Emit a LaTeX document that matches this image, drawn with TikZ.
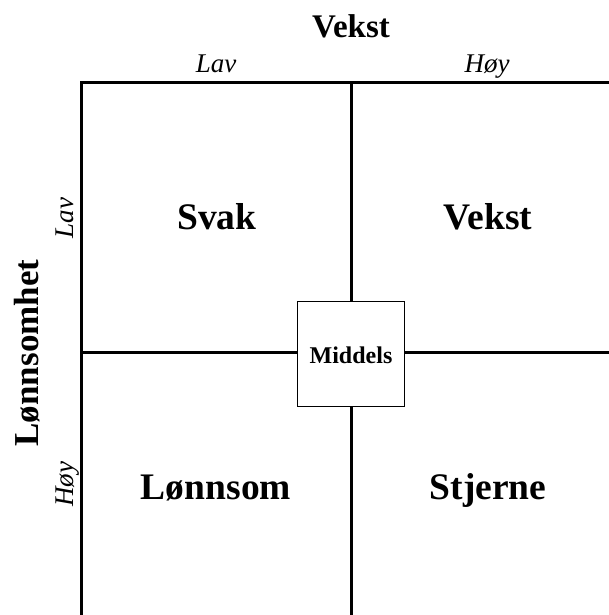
\documentclass[tikz,border=0pt]{standalone}
\usepackage{fontspec}
\setmainfont{Liberation Serif}
\begin{document}
\begin{tikzpicture}[x=1pt,y=-1pt,
  gridline/.style={line width=3pt},
  cell/.style={font=\fontsize{37.5}{40}\selectfont\bfseries, inner sep=0pt, anchor=base},
  axistitle/.style={font=\fontsize{33}{36}\selectfont\bfseries, inner sep=0pt, anchor=base},
  level/.style={font=\fontsize{27}{30}\selectfont\itshape, inner sep=0pt, anchor=base},
  centrebox/.style={draw, line width=1pt, fill=white, minimum width=107pt, minimum height=105.5pt, inner sep=0pt}]
\useasboundingbox (0,0) rectangle (609,615);
% frame and quadrant lines
\coordinate (tl) at (81.5,82.5);
\coordinate (tr) at (609,82.5);
\coordinate (bl) at (81.5,615);
\coordinate (tm) at (351,82.5);
\coordinate (bm) at (351,615);
\coordinate (ml) at (81.5,352);
\coordinate (mr) at (609,352);
\draw[gridline, line cap=rect] (bl) -- (tl) -- (tr);
\draw[gridline] (tm) -- (bm);
\draw[gridline] (ml) -- (mr);
% centre box
\node[centrebox] (mid) at (350.5,354.2) {};
\node[font=\fontsize{24}{27}\selectfont\bfseries, inner sep=0pt, anchor=base] (midtxt) at (351,363.3) {Middels};
% axis titles
\node[axistitle] (vekst) at (351,37.7) {Vekst};
\node[axistitle, font=\fontsize{35}{38}\selectfont\bfseries, rotate=90] (lonn) at (38,353) {Lønnsomhet};
% axis levels
\node[level] (xlav) at (216,73) {Lav};
\node[level] (xhoy) at (487,73) {Høy};
\node[level, rotate=90] (ylav) at (73,218) {Lav};
\node[level, rotate=90] (yhoy) at (73,484) {Høy};
% quadrant labels
\node[cell] (svak) at (217,229) {Svak};
\node[cell] (vkst) at (488,229) {Vekst};
\node[cell] (lsom) at (216,499) {Lønnsom};
\node[cell] (stj) at (488,499) {Stjerne};
\end{tikzpicture}
\end{document}
